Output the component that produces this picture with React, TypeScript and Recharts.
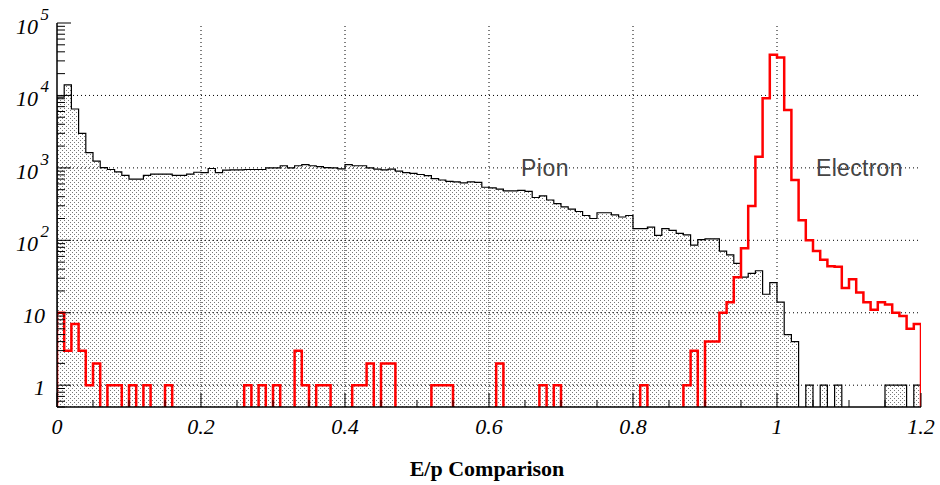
import React from "react";
import { ComposedChart, Area, Line, XAxis, YAxis, ReferenceLine } from "recharts";

// E/p histograms, 120 bins of 0.01 from 0 to 1.2
const binWidth = 0.01;

const pionCounts = [
  9500, 14000, 6500, 3000, 1620, 1240, 1010, 950, 880, 790,
  700, 700, 790, 820, 820, 820, 790, 790, 820, 870,
  860, 980, 860, 930, 940, 940, 950, 950, 950, 1000,
  1000, 1070, 1000, 1070, 1110, 1070, 1040, 1010, 1000, 970,
  1110, 1070, 1070, 1000, 960, 940, 960, 900, 860, 840,
  810, 780, 710, 680, 650, 640, 620, 640, 630, 540,
  530, 510, 480, 480, 490, 475, 390, 410, 360, 320,
  290, 270, 250, 220, 200, 240, 240, 225, 210, 220,
  145, 145, 152, 117, 145, 137, 125, 119, 86, 102,
  105, 105, 71, 63, 48, 31, 35, 38, 18, 26,
  14, 5, 4, 0, 1, 0, 1, 0, 1, 0,
  0, 0, 0, 0, 0, 1, 1, 1, 0, 1,
];

const electronCounts = [
  10, 3, 7, 3, 1, 2, 0, 1, 1, 0,
  1, 0, 1, 0, 0, 1, 0, 0, 0, 0,
  0, 0, 0, 0, 0, 0, 1, 0, 1, 0,
  1, 0, 0, 3, 1, 0, 1, 1, 0, 0,
  0, 1, 1, 2, 0, 2, 2, 0, 0, 0,
  0, 0, 1, 1, 1, 0, 0, 0, 0, 0,
  0, 2, 0, 0, 0, 0, 0, 1, 0, 1,
  0, 0, 0, 0, 0, 0, 0, 0, 0, 0,
  0, 1, 0, 0, 0, 0, 0, 1, 3, 0,
  4, 4, 10, 14, 31, 78, 298, 1420, 9130, 36500,
  33500, 6300, 680, 189, 100, 71, 54, 44, 43, 22,
  29, 19, 14, 11, 14, 13, 10, 9, 6, 7,
];

const xTicks = [
  0, 0.05, 0.1, 0.15, 0.2, 0.25, 0.3, 0.35, 0.4, 0.45, 0.5, 0.55, 0.6,
  0.65, 0.7, 0.75, 0.8, 0.85, 0.9, 0.95, 1, 1.05, 1.1, 1.15, 1.2,
];
const xLabelTicks = [0, 0.2, 0.4, 0.6, 0.8, 1, 1.2];
const xLabels = ["0", "0.2", "0.4", "0.6", "0.8", "1", "1.2"];

const yDecades = [0.1, 1, 10, 100, 1000, 10000];
const yMultipliers = [1, 2, 3, 4, 5, 6, 7, 8, 9];
const yGrid = [1, 10, 100, 1000, 10000];
const yLabelBase = ["1", "10", "10", "10", "10", "10"];
const yLabelPower = ["", "", "2", "3", "4", "5"];
const yLabelValues = [1, 10, 100, 1000, 10000, 100000];

const yMin = 0.5;
const yMax = 100000;
const logFloor = 0.1; // empty bins drawn below the axis and clipped

const yTicks: number[] = [];
yDecades.forEach((d) =>
  yMultipliers.forEach((m) => {
    const v = +(d * m).toPrecision(3);
    if (v >= yMin && v <= yMax) yTicks.push(v);
  })
);
yTicks.push(yMax);

const safe = (v: number) => (v > 0 ? v : logFloor);

const data = [
  { x: 0, pion: logFloor, electron: logFloor },
  ...pionCounts.map((p, i) => ({
    x: +(i * binWidth).toFixed(2),
    pion: safe(p),
    electron: safe(electronCounts[i]),
  })),
  {
    x: +(pionCounts.length * binWidth).toFixed(2),
    pion: safe(pionCounts[pionCounts.length - 1]),
    electron: safe(electronCounts[electronCounts.length - 1]),
  },
  { x: +(pionCounts.length * binWidth).toFixed(2), pion: logFloor, electron: logFloor },
];

const W = 940;
const H = 485;
const plotLeft = 57;
const plotTop = 23;
const plotBottom = 407;
const plotRight = 921;

const serif = "'Liberation Serif', 'Times New Roman', serif";

const XTick = (props: any) => {
  const { x, payload } = props;
  const idx = xLabelTicks.findIndex((t) => Math.abs(t - payload.value) < 1e-6);
  const major = idx >= 0;
  return (
    <g>
      <line x1={x} x2={x} y1={plotBottom} y2={plotBottom - (major ? 14 : 7)} stroke="#000" strokeWidth={1} />
      {major && (
        <text x={x} y={plotBottom + 27} textAnchor="middle" fontFamily={serif} fontStyle="italic" fontSize={22} fill="#000">
          {xLabels[idx]}
        </text>
      )}
    </g>
  );
};

const YTick = (props: any) => {
  const { y, payload } = props;
  const idx = yLabelValues.findIndex((t) => Math.abs(t - payload.value) < 1e-6 * t);
  const major = idx >= 0;
  return (
    <g>
      <line x1={plotLeft} x2={plotLeft + (major ? 14 : 8)} y1={y} y2={y} stroke="#000" strokeWidth={1} />
      {major && yLabelPower[idx] === "" && (
        <text x={45} y={y + 10} textAnchor="end" fontFamily={serif} fontStyle="italic" fontSize={22} fill="#000">
          {yLabelBase[idx]}
        </text>
      )}
      {major && yLabelPower[idx] !== "" && (
        <g>
          <text x={38} y={y + 11} textAnchor="end" fontFamily={serif} fontStyle="italic" fontSize={22} fill="#000">
            {yLabelBase[idx]}
          </text>
          <text x={49} y={y - 3} textAnchor="end" fontFamily={serif} fontStyle="italic" fontSize={17} fill="#000">
            {yLabelPower[idx]}
          </text>
        </g>
      )}
    </g>
  );
};

export default function App() {
  return (
    <div style={{ position: "absolute", left: 0, top: 0, width: W, height: H, background: "#fff" }}>
      <ComposedChart
        width={W}
        height={H}
        data={data}
        margin={{ top: plotTop, right: W - plotRight, bottom: 0, left: 0 }}
      >
        <defs>
          <pattern id="pionDots" width={4} height={4} patternUnits="userSpaceOnUse">
            <rect x={0} y={0} width={4} height={4} fill="#fff" />
            <rect x={0} y={0} width={1} height={1} fill="#777" />
            <rect x={2} y={2} width={1} height={1} fill="#777" />
          </pattern>
        </defs>
        <XAxis
          dataKey="x"
          type="number"
          domain={[0, 1.2]}
          ticks={xTicks}
          interval={0}
          tick={<XTick />}
          tickLine={false}
          tickSize={0}
          axisLine={{ stroke: "#000", strokeWidth: 1.5 }}
          height={H - plotBottom}
          allowDataOverflow
        />
        <XAxis
          xAxisId="top"
          orientation="top"
          dataKey="x"
          type="number"
          domain={[0, 1.2]}
          height={0}
          tick={false}
          tickLine={false}
          axisLine={{ stroke: "#444", strokeWidth: 1.5 }}
        />
        <YAxis
          type="number"
          scale="log"
          domain={[yMin, yMax]}
          ticks={yTicks}
          interval={0}
          tick={<YTick />}
          tickLine={false}
          tickSize={0}
          axisLine={{ stroke: "#000", strokeWidth: 1.5 }}
          width={plotLeft}
          allowDataOverflow
        />
        <YAxis
          yAxisId="right"
          orientation="right"
          type="number"
          scale="log"
          domain={[yMin, yMax]}
          width={0}
          tick={false}
          tickLine={false}
          axisLine={{ stroke: "#444", strokeWidth: 1.5 }}
          allowDataOverflow
        />
        <Area
          dataKey="pion"
          type="stepAfter"
          stroke="#000"
          strokeWidth={1.2}
          fill="url(#pionDots)"
          fillOpacity={1}
          dot={false}
          activeDot={false}
          isAnimationActive={false}
        />
        {xLabelTicks.slice(1, -1).map((v) => (
          <ReferenceLine key={"vx" + v} x={v} stroke="#000" strokeDasharray="1 3" strokeWidth={1} />
        ))}
        {yGrid.map((v) => (
          <ReferenceLine key={"hy" + v} y={v} stroke="#000" strokeDasharray="1 3" strokeWidth={1} />
        ))}
        <Line
          dataKey="electron"
          type="stepAfter"
          stroke="#ff0000"
          strokeWidth={2.5}
          dot={false}
          activeDot={false}
          isAnimationActive={false}
        />
      </ComposedChart>
      <svg
        width={W}
        height={H}
        style={{ position: "absolute", left: 0, top: 0, pointerEvents: "none" }}
      >
        <text x={521} y={176} fontFamily="'Liberation Sans', Arial, sans-serif" fontSize={23} fill="#444" letterSpacing={0.5}>
          Pion
        </text>
        <text x={816} y={176} fontFamily="'Liberation Sans', Arial, sans-serif" fontSize={23} fill="#444" letterSpacing={0.3}>
          Electron
        </text>
        <text x={487} y={476} textAnchor="middle" fontFamily={serif} fontWeight="bold" fontSize={22} fill="#000">
          E/p Comparison
        </text>
      </svg>
    </div>
  );
}
